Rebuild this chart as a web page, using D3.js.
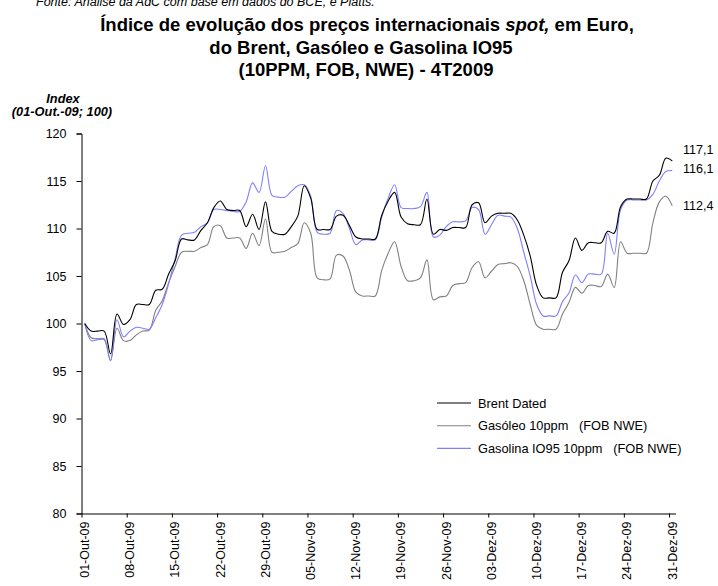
<!DOCTYPE html>
<html><head><meta charset="utf-8">
<script src="https://cdn.jsdelivr.net/npm/d3@7"></script>
<style>
html,body{margin:0;padding:0;background:#fff;}
svg{display:block;font-family:"Liberation Sans",Arial,sans-serif;}
text{white-space:pre;}
</style></head>
<body><svg id="c" width="718" height="586"></svg>
<script>
// ---- data ----
const startDay = new Date(2009, 9, 1);
const endDay = new Date(2010, 0, 1);
const days = d3.timeDay.range(startDay, endDay); // 01-Out-09 .. 31-Dez-09 (calendar days)

const brent = [100.0,99.2,99.2,99.2,96.8,101.0,99.9,100.4,102.0,102.0,102.0,103.5,103.6,105.2,106.6,108.9,108.8,108.8,109.8,110.6,
112.2,112.9,112.0,111.9,111.9,110.2,111.5,109.9,112.8,109.7,109.4,109.4,110.2,111.3,114.5,113.2,109.9,109.9,109.9,111.3,
111.4,110.3,109.1,108.9,108.9,108.9,111.4,112.9,113.8,111.2,110.5,110.4,110.4,113.1,109.4,109.9,109.8,110.1,110.1,110.1,
112.5,112.7,110.6,111.3,111.6,111.6,111.6,110.9,109.3,107.1,104.0,102.7,102.7,102.7,105.4,106.6,109.0,107.7,108.5,108.5,
108.5,109.7,109.5,112.3,113.1,113.1,113.1,113.1,115.0,115.6,117.4,117.1];

const gasoleo = [100.0,98.5,98.4,98.4,96.1,99.5,98.2,98.2,98.8,99.2,99.3,101.4,102.4,104.3,106.0,107.5,107.6,107.6,108.0,108.3,
110.2,110.3,109.0,109.0,109.0,107.9,109.5,108.2,111.0,107.5,107.5,107.6,108.0,108.4,110.6,109.5,104.8,104.6,104.7,107.2,
107.1,105.6,103.3,102.9,102.9,102.9,105.6,107.4,108.6,106.0,104.5,104.5,104.8,106.7,102.5,102.8,102.9,104.0,104.2,104.3,
105.9,106.5,104.8,105.5,106.2,106.3,106.4,106.0,104.5,102.0,99.8,99.4,99.4,99.4,101.0,102.2,103.8,103.2,104.0,104.0,
103.9,105.2,103.8,108.6,107.4,107.4,107.4,107.4,110.6,112.8,113.4,112.4];

const gasolina = [100.0,98.2,98.3,98.3,96.1,100.4,98.6,99.2,99.6,99.5,99.4,100.6,102.0,104.2,106.8,109.3,109.5,109.6,110.2,110.6,
112.0,112.0,111.9,111.8,111.8,112.8,114.8,113.8,116.6,113.5,113.3,113.3,113.9,114.5,114.6,113.4,109.6,109.4,109.5,111.9,
111.6,110.0,108.3,108.8,108.8,108.8,111.2,113.2,114.6,112.2,112.1,112.1,112.3,113.8,109.1,109.3,110.2,110.7,110.7,110.8,
112.2,112.0,109.4,110.4,111.4,111.3,111.2,110.0,107.5,105.0,102.0,100.8,100.8,100.8,102.3,103.2,105.1,104.3,105.2,105.2,
105.2,109.5,107.3,112.0,113.0,113.0,113.0,113.0,113.6,115.0,116.0,116.1];

const seriesNames = ["Brent Dated", "Gasóleo 10ppm   (FOB NWE)", "Gasolina IO95 10ppm   (FOB NWE)"];
const endLabels = ["117,1", "112,4", "116,1"];
const yTicks = [80, 85, 90, 95, 100, 105, 110, 115, 120];
const tickLabels = ["01-Out-09","08-Out-09","15-Out-09","22-Out-09","29-Out-09","05-Nov-09","12-Nov-09",
"19-Nov-09","26-Nov-09","03-Dez-09","10-Dez-09","17-Dez-09","24-Dez-09","31-Dez-09"];

// ---- drawing ----
const svg = d3.select("#c");
const colors = ["#000000", "#808080", "#7f7fff"];
const allSeries = [brent, gasoleo, gasolina];

const x = d3.scaleTime().domain([startDay, endDay]).range([81.5, 675.5]);
const y = d3.scaleLinear().domain([80, 120]).range([513.5, 133.5]);
const mid = d => d3.timeHour.offset(d, 12);

// source note (clipped at top, as in the original)
svg.append("text").attr("x", 36).attr("y", 6).attr("font-size", 12.5).attr("font-style", "italic")
  .attr("fill", "#000").text("Fonte: Análise da AdC com base em dados do BCE, e Platts.");

// title
const tfs = 18.5;
const t1 = svg.append("text").attr("x", 367).attr("y", 31).attr("text-anchor", "middle")
  .attr("font-size", tfs).attr("font-weight", "bold");
t1.append("tspan").text("Índice de evolução dos preços internacionais ");
t1.append("tspan").attr("font-style", "italic").text("spot,");
t1.append("tspan").text(" em Euro,");
svg.append("text").attr("x", 361).attr("y", 54).attr("text-anchor", "middle")
  .attr("font-size", tfs).attr("font-weight", "bold").text("do Brent, Gasóleo e Gasolina IO95");
svg.append("text").attr("x", 366).attr("y", 76).attr("text-anchor", "middle")
  .attr("font-size", tfs).attr("font-weight", "bold").text("(10PPM, FOB, NWE) - 4T2009");

// y label
svg.append("text").attr("x", 63).attr("y", 102.5).attr("text-anchor", "middle")
  .attr("font-size", 12.8).attr("font-weight", "bold").attr("font-style", "italic").text("Index");
svg.append("text").attr("x", 62).attr("y", 116).attr("text-anchor", "middle")
  .attr("font-size", 12.8).attr("font-weight", "bold").attr("font-style", "italic").text("(01-Out.-09; 100)");

// y axis
const yAxis = d3.axisLeft(y).tickValues(yTicks).tickSize(5).tickPadding(10).tickFormat(d3.format("d"));
const gy = svg.append("g").attr("transform", "translate(81.5,0)").call(yAxis);
gy.select(".domain").attr("stroke", "#000");
gy.selectAll("text").attr("font-size", 12.5).attr("font-family", "Liberation Sans, Arial, sans-serif").attr("fill", "#000");

// x axis
const tickDates = tickLabels.map((_, i) => d3.timeDay.offset(startDay, i * 7));
const xAxis = d3.axisBottom(x).tickValues(tickDates).tickSize(4).tickSizeOuter(0)
  .tickFormat((d, i) => tickLabels[i]);
const gx = svg.append("g").attr("transform", "translate(0,513.5)").call(xAxis);
gx.select(".domain").attr("stroke", "#000");
gx.selectAll("text").attr("font-size", 12.5).attr("font-family", "Liberation Sans, Arial, sans-serif").attr("fill", "#000")
  .attr("text-anchor", "end").attr("dominant-baseline", "central")
  .attr("transform", "translate(3,8) rotate(-90)").attr("x", 0).attr("y", 0).attr("dy", null);

// lines
const line = d3.line().x((v, i) => x(mid(days[i]))).y(v => y(v)).curve(d3.curveCatmullRom.alpha(0.5));
const order = [1, 2, 0];
order.forEach(k => {
  svg.append("path").datum(allSeries[k]).attr("d", line).attr("fill", "none")
    .attr("stroke", colors[k]).attr("stroke-width", 1.1);
});

// end labels
const endOff = [-11, 0, -2];
allSeries.forEach((s, k) => {
  const last = s[s.length - 1];
  svg.append("text").attr("x", 683).attr("y", y(last) + endOff[k])
    .attr("font-size", 12.5).attr("dominant-baseline", "central").text(endLabels[k]);
});

// legend
const lg = svg.append("g").attr("transform", "translate(437,403)");
seriesNames.forEach((n, k) => {
  lg.append("line").attr("x1", 0).attr("x2", 34).attr("y1", k * 22.7).attr("y2", k * 22.7)
    .attr("stroke", colors[k]).attr("stroke-width", 1.1);
  lg.append("text").attr("x", 41).attr("y", k * 22.7).attr("dominant-baseline", "central")
    .attr("font-size", 12.8).text(n);
});
</script></body></html>
